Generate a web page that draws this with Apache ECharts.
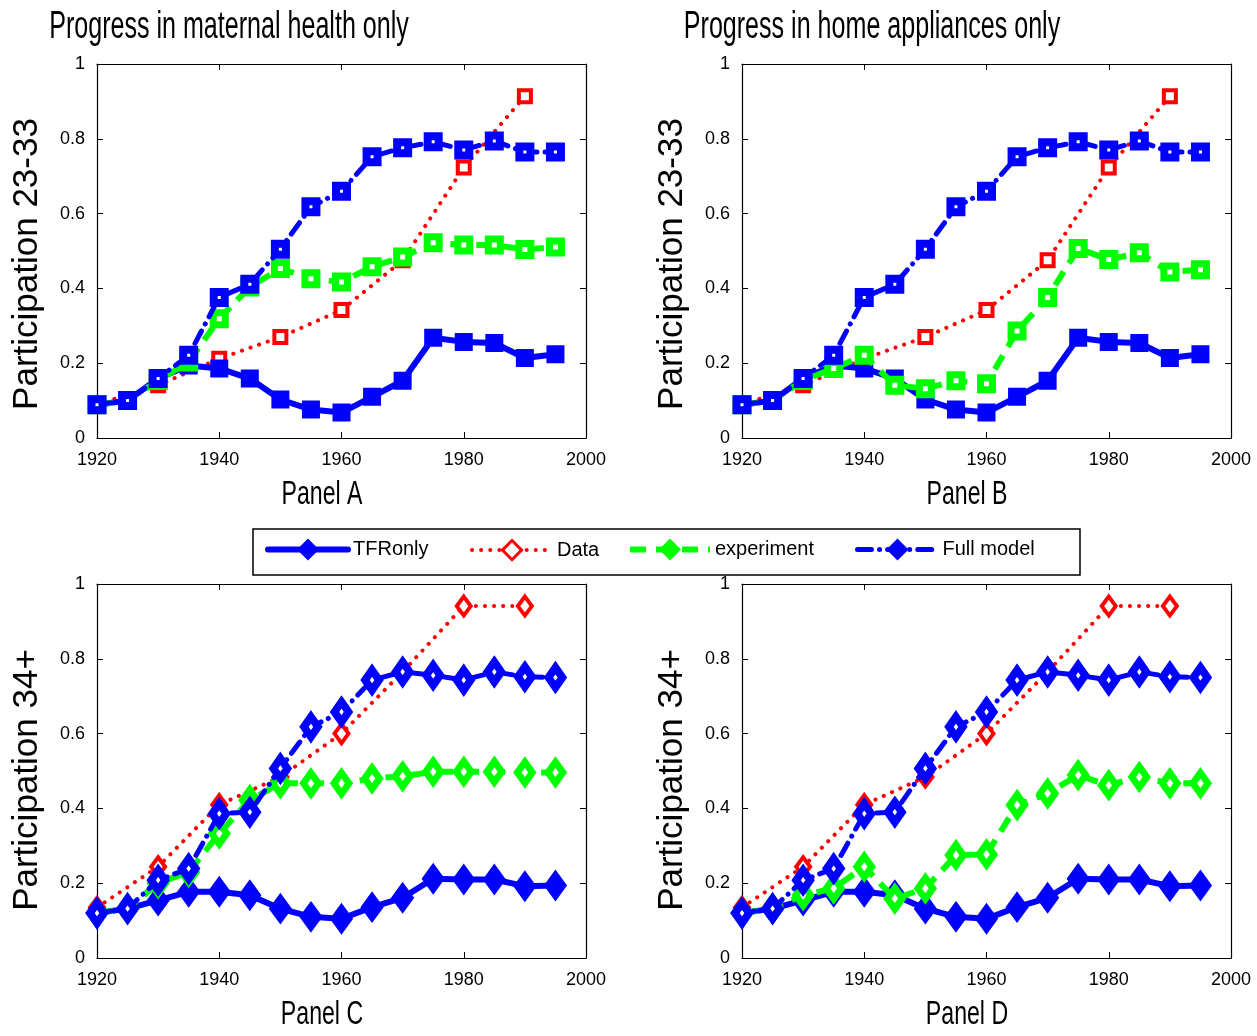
<!DOCTYPE html>
<html><head><meta charset="utf-8">
<script src="https://cdn.jsdelivr.net/npm/echarts@6/dist/echarts.min.js"></script>
<style>html,body{margin:0;padding:0;background:#fff}#c{width:1257px;height:1036px}</style>
</head><body><div id="c"></div>
<script>
// ---------- data ----------
const years = [1920,1925,1930,1935,1940,1945,1950,1955,1960,1965,1970,1975,1980,1985,1990,1995];
const dataYears = [1920,1930,1940,1950,1960,1970,1980,1990];
const xTickLabels = ['1920','1940','1960','1980','2000'];
const yTickLabels = ['0','0.2','0.4','0.6','0.8','1'];
const seriesNames = ['TFRonly','Data','experiment','Full model'];
const panelTitles = ['Progress in maternal health only','Progress in home appliances only'];
const panelLabels = ['Panel A','Panel B','Panel C','Panel D'];
const yAxisNames = ['Participation 23-33','Participation 34+'];

// Participation 23-33 (panels A, B)
const tfrYoung  = [0.089,0.100,0.159,0.194,0.186,0.159,0.103,0.076,0.068,0.110,0.153,0.268,0.257,0.254,0.214,0.224];
const fullYoung = [0.089,0.100,0.159,0.221,0.376,0.411,0.505,0.618,0.660,0.752,0.776,0.792,0.770,0.794,0.765,0.765];
const expMaternalYoung  = [0.089,0.100,0.154,0.203,0.319,0.404,0.453,0.426,0.417,0.458,0.484,0.522,0.516,0.516,0.504,0.511];
const expApplianceYoung = [0.089,0.100,0.154,0.186,0.221,0.141,0.132,0.153,0.145,0.286,0.376,0.507,0.477,0.495,0.444,0.450];
const dataYoung = [0.090,0.141,0.212,0.270,0.342,0.475,0.723,0.914];

// Participation 34+ (panels C, D)
const tfrOld  = [0.120,0.132,0.154,0.177,0.177,0.168,0.132,0.110,0.105,0.136,0.161,0.212,0.210,0.210,0.192,0.194];
const fullOld = [0.120,0.132,0.208,0.239,0.386,0.390,0.507,0.618,0.658,0.743,0.765,0.756,0.743,0.765,0.752,0.750];
const expMaternalOld  = [0.120,0.132,0.200,0.230,0.333,0.422,0.467,0.467,0.467,0.480,0.486,0.498,0.498,0.498,0.496,0.496];
const expApplianceOld = [0.120,0.132,0.168,0.186,0.244,0.159,0.186,0.275,0.277,0.409,0.440,0.489,0.462,0.484,0.467,0.467];
const dataOld = [0.135,0.244,0.410,0.484,0.600,0.765,0.941,0.941];

// ---------- layout ----------
const SANS = "'Liberation Sans',Arial,Helvetica,sans-serif";
const BLUE = '#0000ff', RED = '#ff0000', GREEN = '#00ff00';
const grids = [
  {left:97,  top:64,  width:489, height:374},  // A
  {left:742, top:64,  width:489, height:374},  // B
  {left:97,  top:584, width:489, height:374},  // C
  {left:742, top:584, width:489, height:374}   // D
];

const xAxes = [], yAxes = [];
grids.forEach((g, i) => {
  const common = {type:'value', gridIndex:i, min:1920, max:2000, interval:20,
    axisLine:{show:true, onZero:false, lineStyle:{color:'#000', width:1.2}},
    axisTick:{show:true, inside:true, length:6, lineStyle:{color:'#000', width:1}},
    splitLine:{show:false}};
  xAxes.push(Object.assign({}, common, {position:'bottom',
    axisLabel:{show:true, margin:13, color:'#000', fontFamily:SANS, fontSize:18,
      formatter: v => xTickLabels[xTickLabels.indexOf(String(v))] || String(v)}}));
  xAxes.push(Object.assign({}, common, {position:'top', axisLabel:{show:false}}));
  const yc = {type:'value', gridIndex:i, min:0, max:1, interval:0.2,
    axisLine:{show:true, onZero:false, lineStyle:{color:'#000', width:1.2}},
    axisTick:{show:true, inside:true, length:6, lineStyle:{color:'#000', width:1}},
    splitLine:{show:false}};
  yAxes.push(Object.assign({}, yc, {position:'left',
    name: yAxisNames[i < 2 ? 0 : 1], nameLocation:'middle', nameGap:52,
    nameTextStyle:{fontFamily:SANS, fontSize:35, color:'#000', padding:[0, i < 2 ? 26 : 18, 0, 0]},
    axisLabel:{show:true, margin:12, color:'#000', fontFamily:SANS, fontSize:18,
      formatter: v => yTickLabels[Math.round(v*5)]}}));
  yAxes.push(Object.assign({}, yc, {position:'right', name:'', axisLabel:{show:false}}));
});

function pairs(xs, ys) { return xs.map((x, k) => [x, ys[k]]); }

const styles = {
  'TFRonly':    {line:{color:BLUE, width:6, type:'solid', cap:'round'}, item:{color:BLUE, borderColor:BLUE, borderWidth:6}, sq:12, dia:[16,22]},
  'Data':       {line:{color:RED, width:4, type:[0.1,9], cap:'round'}, item:{color:'#fff', borderColor:RED, borderWidth:4}, sq:12, dia:[14,19]},
  'experiment': {line:{color:GREEN, width:6, type:[16,10]}, item:{color:'#fff', borderColor:GREEN, borderWidth:7}, sq:12, dia:[15,21]},
  'Full model': {line:{color:BLUE, width:5, type:[14,8,0.1,8], cap:'round'}, item:{color:'#fff', borderColor:BLUE, borderWidth:8}, sq:11, dia:[14,20]}
};
const zOrder = {'Data':1, 'TFRonly':2, 'experiment':3, 'Full model':4};

function mk(name, gi, xs, ys, sym) {
  const st = styles[name];
  return {name, type:'line', xAxisIndex:2*gi, yAxisIndex:2*gi, data:pairs(xs, ys),
    symbol:sym, showSymbol:true, animation:false, silent:true, z:zOrder[name],
    symbolSize: sym === 'diamond' ? st.dia : st.sq,
    lineStyle: Object.assign({}, st.line), itemStyle: Object.assign({}, st.item)};
}

const series = [];
const panelDefs = [
  {gi:2, sym:'diamond', tfr:tfrOld, full:fullOld, exp:expMaternalOld, dat:dataOld},
  {gi:3, sym:'diamond', tfr:tfrOld, full:fullOld, exp:expApplianceOld, dat:dataOld},
  {gi:0, sym:'rect', tfr:tfrYoung, full:fullYoung, exp:expMaternalYoung, dat:dataYoung},
  {gi:1, sym:'rect', tfr:tfrYoung, full:fullYoung, exp:expApplianceYoung, dat:dataYoung}
];
panelDefs.forEach(p => {
  series.push(mk('Data', p.gi, dataYears, p.dat, p.sym));
  series.push(mk('TFRonly', p.gi, years, p.tfr, p.sym));
  series.push(mk('experiment', p.gi, years, p.exp, p.sym));
  series.push(mk('Full model', p.gi, years, p.full, p.sym));
});

const legendItemStyles = {
  'TFRonly':    {color:BLUE, borderColor:BLUE, borderWidth:2},
  'Data':       {color:'#fff', borderColor:RED, borderWidth:3},
  'experiment': {color:GREEN, borderColor:GREEN, borderWidth:2},
  'Full model': {color:BLUE, borderColor:BLUE, borderWidth:2}
};
const legendLefts = [260, 465, 622, 850];
const legends = seriesNames.map((n, k) => ({
  data:[n], left:legendLefts[k], top:534, itemWidth:80, itemHeight:24, itemGap:0,
  selectedMode:false,
  lineStyle: Object.assign({}, styles[n].line),
  itemStyle: Object.assign({}, legendItemStyles[n]),
  textStyle:{fontFamily:SANS, fontSize:20, color:'#000'}
}));

function txt(x, y, s, size, sx) {
  return {type:'text', x:x, y:y, scaleX:sx, silent:true,
    style:{text:s, font:size + 'px ' + SANS, fill:'#000', textAlign:'center', textVerticalAlign:'middle'}};
}
const graphics = [
  {type:'rect', shape:{x:253, y:529, width:827, height:46}, style:{fill:'none', stroke:'#000', lineWidth:1.5}, z:-1, silent:true},
  txt(229, 28, panelTitles[0], 38, 0.66),
  txt(872, 28, panelTitles[1], 38, 0.66),
  txt(322, 495, panelLabels[0], 34, 0.68),
  txt(967, 495, panelLabels[1], 34, 0.68),
  txt(322, 1015, panelLabels[2], 34, 0.68),
  txt(967, 1015, panelLabels[3], 34, 0.68)
];

const chart = echarts.init(document.getElementById('c'), null, {renderer:'canvas'});
chart.setOption({
  backgroundColor:'#fff',
  animation:false,
  grid: grids.map(g => Object.assign({containLabel:false, show:false}, g)),
  xAxis: xAxes,
  yAxis: yAxes,
  legend: legends,
  series: series,
  graphic: graphics
});
</script></body></html>
